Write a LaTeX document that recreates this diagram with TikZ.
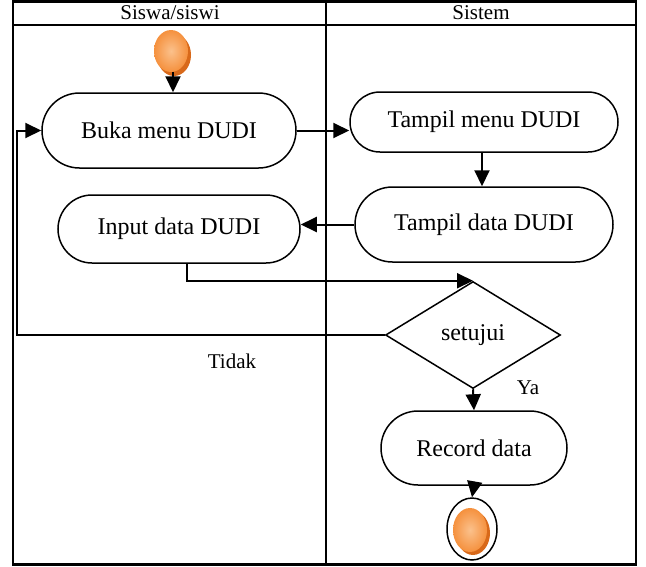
\documentclass[tikz,border=0pt]{standalone}
\usepackage{fontspec}
\setmainfont{Liberation Serif}
\usetikzlibrary{arrows.meta,shapes.misc,shapes.geometric}
\definecolor{ballhi}{HTML}{FBC18C}
\definecolor{ballmid}{HTML}{F5913E}
\definecolor{ballshade}{HTML}{D8691A}
\tikzset{
  lane/.style={line width=2.2pt},
  act/.style={rounded rectangle, draw, line width=1.5pt, inner sep=0pt,
    font=\fontsize{24}{28}\selectfont},
  decision/.style={diamond, draw, line width=1.5pt, inner sep=0pt,
    font=\fontsize{24}{28}\selectfont},
  arr/.style={line width=2pt, -{Triangle[length=16pt,width=15pt]}},
  lbl/.style={font=\fontsize{21}{24}\selectfont, inner sep=0pt},
  ball/.style={ellipse, inner sep=0pt, inner color=ballhi, outer color=ballmid},
  ballback/.style={ellipse, inner sep=0pt, fill=ballshade},
}
\begin{document}
\begin{tikzpicture}[x=1pt,y=-1pt]
\useasboundingbox (0,0) rectangle (646,566);
% swimlane frame
\draw[lane] (13,1.5) rectangle (636,564.5);
\draw[lane] (13,25) -- (636,25);
\draw[lane] (326,1.5) -- (326,564.5);
\node[lbl] (laneA) at (170,13) {Siswa/siswi};
\node[lbl] (laneB) at (481,13) {Sistem};

% initial node
\node[ballback, minimum width=34pt, minimum height=42pt] (startsh) at (174,55) {};
\node[ball, minimum width=34pt, minimum height=42pt] (start) at (171,51) {};

% activities
\node[act, minimum width=254pt, minimum height=75pt] (buka) at (169,130.5) {Buka menu DUDI};
\node[act, minimum width=268pt, minimum height=60pt] (tmenu) at (484,122) {Tampil menu DUDI};
\node[act, minimum width=258pt, minimum height=75pt] (tdata) at (484,224.5) {Tampil data DUDI};
\node[act, minimum width=242pt, minimum height=68pt] (input) at (179,229) {Input data DUDI};
\node[decision, minimum width=175pt, minimum height=107pt] (dec) at (473,335) {setujui};
\node[act, minimum width=186pt, minimum height=74pt] (record) at (474,448) {Record data};

% final node
\node[ellipse, draw, line width=1.5pt, minimum width=50pt, minimum height=62pt, inner sep=0pt] (final) at (472,529) {};
\node[ballback, minimum width=34pt, minimum height=44pt] (finalsh) at (473,533) {};
\node[ball, minimum width=34pt, minimum height=44pt] (finalball) at (470,530) {};

\coordinate (loop) at (17,335);

% flows
\draw[arr] ([xshift=2pt]start.south) -- ([xshift=2pt]start.south |- buka.north);
\draw[arr] (buka.east) -- (buka.east -| tmenu.west);
\draw[arr] ([xshift=-2pt]tmenu.south) -- ([xshift=-2pt]tmenu.south |- tdata.north);
\draw[arr] (tdata.west) -- (tdata.west -| input.east);
\draw[arr] ([xshift=8pt]input.south) |- (dec.north);
\draw[arr] (dec.west) -- (loop) |- (buka.west);
\draw[arr] (dec.south) -- (record.north);
\draw[arr] (record.south) -- (final.north);

% guard labels
\node[lbl] (tidak) at (232,361) {Tidak};
\node[lbl] (ya) at (528,388) {Ya};
\end{tikzpicture}
\end{document}
